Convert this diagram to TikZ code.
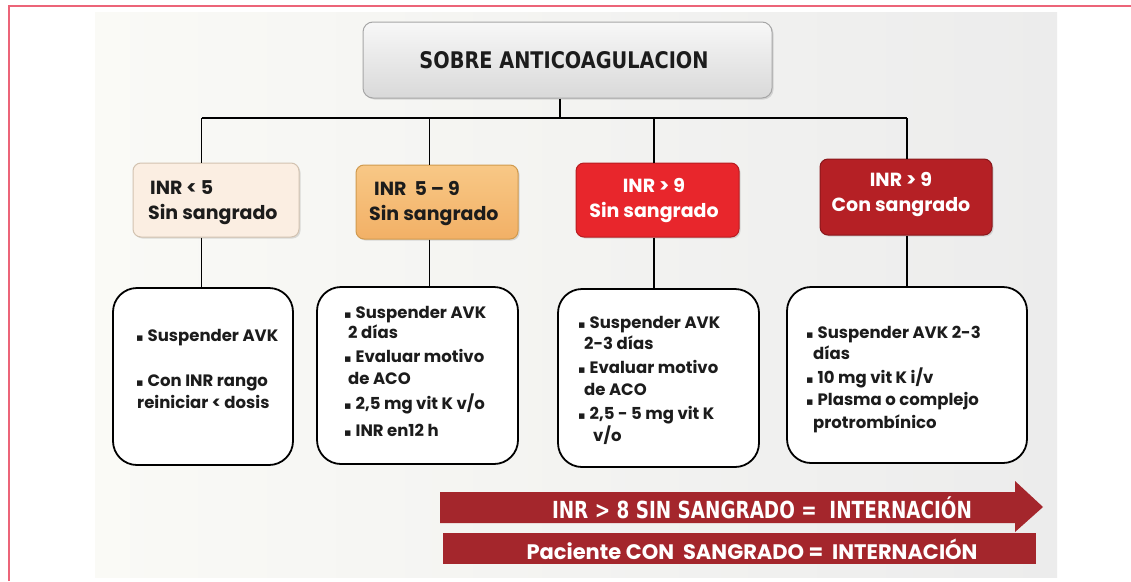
\documentclass[tikz,border=0pt]{standalone}
\usepackage{fontspec}
\setmainfont{Poppins}
\newfontfamily\condf{DejaVu Sans Condensed}
\newfontfamily\symf{DejaVu Sans}
\usetikzlibrary{shadows}
\definecolor{pinkline}{HTML}{EC6478}
\definecolor{panelL}{HTML}{FAFAF6}
\definecolor{panelR}{HTML}{ECECEC}
\definecolor{peach}{HTML}{FBEEE2}
\definecolor{peachB}{HTML}{D2C2B0}
\definecolor{orangeT}{HTML}{F8C886}
\definecolor{orangeB}{HTML}{F2B066}
\definecolor{orangeD}{HTML}{D09A4E}
\definecolor{redA}{HTML}{E8262C}
\definecolor{redAB}{HTML}{B81C20}
\definecolor{redB}{HTML}{B52025}
\definecolor{redBB}{HTML}{8A171B}
\definecolor{barred}{HTML}{A4262C}
\definecolor{ink}{HTML}{1C1C1C}
\newcommand{\bul}{{\symf\fontsize{11}{11}\selectfont ▪}\hspace{4pt}}
\tikzset{
  lvltwo/.style={rounded corners=8pt, line width=1pt, drop shadow={opacity=0.25, shadow xshift=1.5pt, shadow yshift=-1.5pt}},
  lvlthree/.style={draw=black, fill=white, line width=1.8pt, rounded corners=24pt},
  conn/.style={draw=black, line width=1.4pt},
  twotxt/.style={font=\fontsize{19}{25}\selectfont\bfseries, inner sep=0pt},
  threetxt/.style={font=\fontsize{16.5}{22}\selectfont\bfseries, text=ink, align=left, inner sep=0pt, anchor=base west},
}
\begin{document}
\begin{tikzpicture}[x=1pt,y=-1pt]
\useasboundingbox (0,0) rectangle (1131,581);
\fill[white] (0,0) rectangle (1131,581);
% panel
\shade[left color=panelL, right color=panelR] (95,12) rectangle (1057,577);
% pink frame
\draw[pinkline, line width=2pt] (8.5,581) -- (8.5,5.5) -- (1131,5.5);

% top box
\node[draw=black!35, top color=white!97!black, bottom color=black!15, rounded corners=10pt, line width=1pt,
      drop shadow={opacity=0.25, shadow xshift=1.5pt, shadow yshift=-1.5pt},
      minimum width=409pt, minimum height=76pt, inner sep=0pt] (top) at (567.5,60) {};
\node[text=ink, inner sep=0pt] (toptxt) at (564,60)
  {\resizebox{289pt}{17pt}{\condf\bfseries SOBRE ANTICOAGULACION}};

% level 2
\node[lvltwo, draw=peachB, fill=peach, minimum width=166pt, minimum height=74pt] (b1) at (216,200) {};
\node[lvltwo, draw=orangeD, top color=orangeT, bottom color=orangeB, minimum width=162pt, minimum height=74pt] (b2) at (437,202) {};
\node[lvltwo, draw=redAB, fill=redA, minimum width=163pt, minimum height=74pt] (b3) at (657.5,200) {};
\node[lvltwo, draw=redBB, fill=redB, minimum width=172pt, minimum height=76pt] (b4) at (906,197) {};

\node[twotxt, text=ink, align=left, anchor=west] (t1) at (148,203) {\hspace{2pt}INR < 5\\Sin sangrado};
\node[twotxt, text=ink, align=left, anchor=west] (t2) at (369,204) {\hspace{5pt}INR\ \ 5 – 9\\Sin sangrado};
\node[twotxt, text=white, align=center] (t3) at (654,200.5) {INR > 9\\Sin sangrado};
\node[twotxt, text=white, align=center] (t4) at (901,194.5) {INR > 9\\Con sangrado};

% level 3
\node[lvlthree, minimum width=180pt, minimum height=177pt] (c1) at (203,376.5) {};
\node[lvlthree, minimum width=201pt, minimum height=177pt] (c2) at (417.5,375.5) {};
\node[lvlthree, minimum width=201pt, minimum height=178pt] (c3) at (658.5,378) {};
\node[lvlthree, minimum width=240pt, minimum height=176pt] (c4) at (907,375) {};

\node[threetxt] (x1) at (136,408) {\bul Suspender AVK\\[23pt]\bul Con INR rango\\\hspace{1pt}reiniciar < dosis};
\node[threetxt] (x2) at (344,436) {\bul Suspender AVK\\[-2pt]\hspace{4pt}2 días\\[2pt]\bul Evaluar motivo\\\hspace{4pt}de ACO\\[3pt]\bul 2,5 mg vit K v/o\\[5pt]\bul INR en12 h};
\node[threetxt] (x3) at (578,441) {\bul Suspender AVK\\[-1pt]\hspace{6pt}2-3 días\\[2pt]\bul Evaluar motivo\\\hspace{6pt}de ACO\\[2pt]\bul 2,5 - 5 mg vit K\\\hspace{15pt}v/o};
\node[threetxt] (x4) at (806,428) {\bul Suspender AVK 2-3\\[-1pt]\hspace{7pt}días\\[2pt]\bul 10 mg vit K i/v\\\bul Plasma o complejo\\[1pt]\hspace{7pt}protrombínico};

% connectors
\coordinate (hub) at (560,118);
\coordinate (d1) at (201.5,118);
\coordinate (d2) at (429.5,118);
\coordinate (d3) at (654,118);
\coordinate (d4) at (907,118);
\draw[conn] (top.south -| hub) -- (hub);
\draw[conn] (d1) -- (d4);
\draw[conn] (d1) -- (d1 |- b1.north);
\draw[conn] (d2) -- (d2 |- b2.north);
\draw[conn] (d3) -- (d3 |- b3.north);
\draw[conn] (d4) -- (d4 |- b4.north);
\draw[conn] (d1 |- b1.south) -- (d1 |- c1.north);
\draw[conn] (d2 |- b2.south) -- (d2 |- c2.north);
\draw[conn] (d3 |- b3.south) -- (d3 |- c3.north);
\draw[conn] (d4 |- b4.south) -- (d4 |- c4.north);

% bottom arrow and bar
\fill[barred] (440,492) -- (1015,492) -- (1015,481) -- (1043,507) -- (1015,532) -- (1015,523) -- (440,523) -- cycle;
\node[text=white, inner sep=0pt] (a1) at (762,508)
  {\scalebox{1}[1.15]{\resizebox{420pt}{!}{\condf\bfseries INR > 8 SIN SANGRADO =\ \ INTERNACIÓN}}};
\fill[barred] (443,533) rectangle (1036,564);
\node[text=white, inner sep=0pt] (a2) at (752,549)
  {\resizebox{451pt}{!}{\bfseries Paciente CON\ \ SANGRADO =\ \ INTERNACIÓN}};
\end{tikzpicture}
\end{document}
